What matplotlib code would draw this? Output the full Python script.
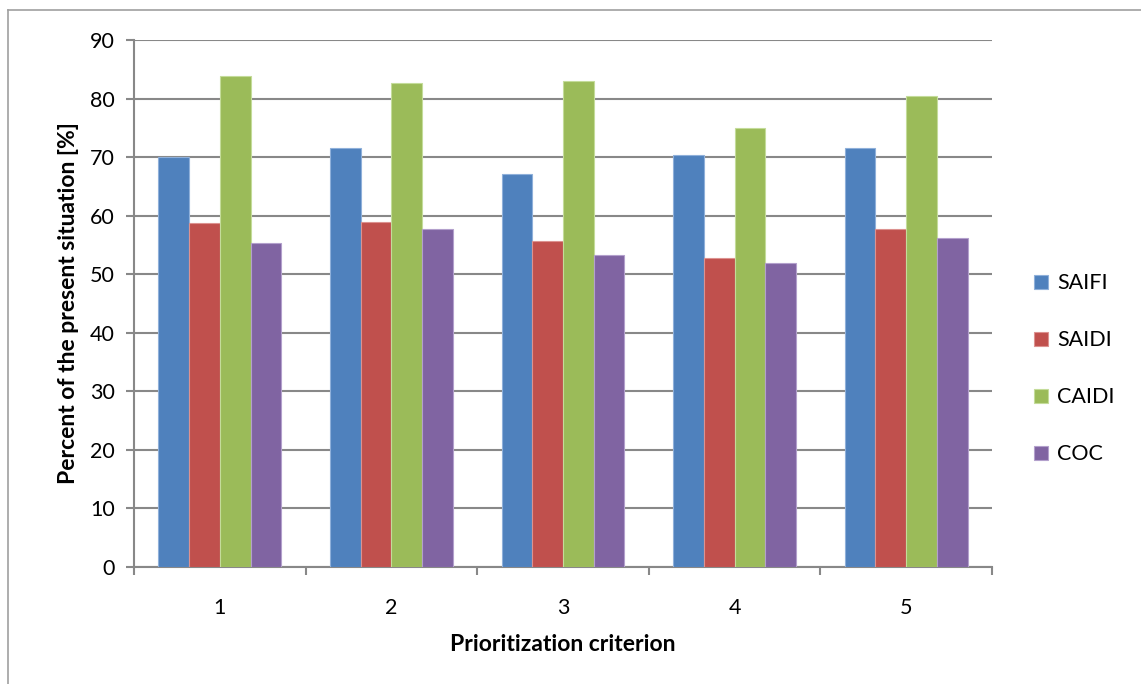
import matplotlib
matplotlib.use("Agg")
import matplotlib.pyplot as plt
import numpy as np
from matplotlib.lines import Line2D

categories = ["1", "2", "3", "4", "5"]
series_names = ["SAIFI", "SAIDI", "CAIDI", "COC"]
saifi = [70.0, 71.5, 67.2, 70.3, 71.6]
saidi = [58.7, 59.0, 55.7, 52.7, 57.7]
caidi = [83.9, 82.6, 83.0, 74.9, 80.5]
coc = [55.3, 57.7, 53.3, 51.9, 56.2]
colors = ["#4F81BD", "#C0504D", "#9BBB59", "#8064A2"]
edge_colors = ["#8FB0DA", "#DC9290", "#C4DC9A", "#B3A0CC"]
yticks = [0, 10, 20, 30, 40, 50, 60, 70, 80, 90]

plt.rcParams['font.family'] = ['Lato', 'DejaVu Sans']

fig = plt.figure(figsize=(11.41, 6.84), dpi=100)
ax = fig.add_axes([134/1141, 1-567/684, (992-134)/1141, (567-40)/684])

x = np.arange(1, len(categories) + 1)
bw = 0.179
data = [saifi, saidi, caidi, coc]
for i, (name, vals) in enumerate(zip(series_names, data)):
    ax.bar(x + (i - 1.5) * bw, vals, width=bw, color=colors[i],
           edgecolor=edge_colors[i], linewidth=0.8, label=name, zorder=3)

ax.set_xlim(0.5, 5.5)
ax.set_ylim(0, 90)
ax.set_yticks(yticks)
ax.set_xticks(x)
ax.set_xticklabels(categories)
ax.set_xticks(np.arange(0.5, 5.6, 1), minor=True)
ax.tick_params(axis='x', which='major', length=0, pad=22, labelsize=15.5)
ax.tick_params(axis='x', which='minor', length=6, width=1.5, color='#888888', direction='out')
ax.tick_params(axis='y', length=6, width=1.5, color='#888888', labelsize=15.5, pad=8)
ax.yaxis.grid(True, color='#888888', linewidth=1.5, zorder=0)
ax.set_axisbelow(True)
for s in ['top', 'right']:
    ax.spines[s].set_visible(False)
for s in ['left', 'bottom']:
    ax.spines[s].set_color('#888888')
    ax.spines[s].set_linewidth(1.5)

ax.set_ylabel("Percent of the present situation [%]", fontsize=16.5, fontweight='bold', labelpad=8)
ax.set_xlabel("Prioritization criterion", fontsize=16.5, fontweight='bold', labelpad=12)

leg = ax.legend(loc='center left', bbox_to_anchor=(1.026, 0.376), frameon=False,
                fontsize=15.5, handlelength=0.65, handleheight=0.65,
                labelspacing=1.72, handletextpad=0.45)

# outer chart border (left and top visible)
fig.add_artist(Line2D([8/1141, 8/1141], [0, 1-10/684], color='#a0a0a0', linewidth=1.2))
fig.add_artist(Line2D([8/1141, 1], [1-10/684, 1-10/684], color='#a0a0a0', linewidth=1.2))

fig.savefig("out.png", dpi=100)
